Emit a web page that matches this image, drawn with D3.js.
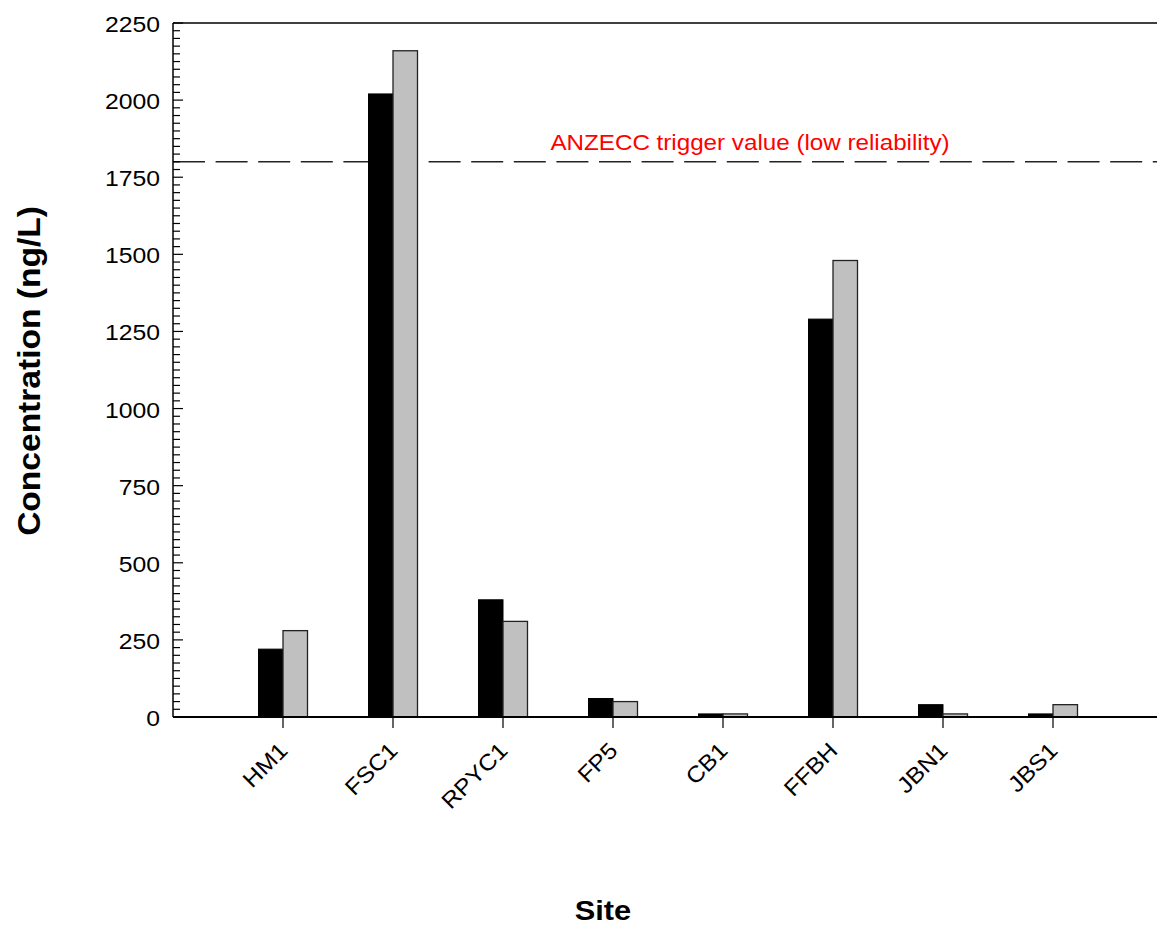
<!DOCTYPE html>
<html><head><meta charset="utf-8">
<script src="https://cdn.jsdelivr.net/npm/d3@7"></script>
<style>body{margin:0;background:#fff}svg{display:block}text{font-family:"Liberation Sans",Arial,sans-serif}</style>
</head><body>
<svg id="c" width="1157" height="926"></svg>
<script>
const sites = ["HM1","FSC1","RPYC1","FP5","CB1","FFBH","JBN1","JBS1"];
const seriesA = [220, 2020, 380, 60, 10, 1290, 40, 10];
const seriesB = [280, 2160, 310, 50, 10, 1480, 10, 40];
const yTicks = [0, 250, 500, 750, 1000, 1250, 1500, 1750, 2000, 2250];
const triggerValue = 1800;
const triggerLabel = "ANZECC trigger value (low reliability)";

(function(){
const svg = d3.select("#c");
const pL = 173, pT = 23, pB = 717, step = 110;
const y = d3.scaleLinear().domain([0, 2250]).range([pB, pT]);
const x = d3.scaleLinear().domain([-1, 9]).range([pL, pL + step * 10]);
const bw = 24.5;
const sx = 1.1;

// trigger line (behind bars)
svg.append("line").attr("x1", pL).attr("x2", 1157)
  .attr("y1", y(triggerValue)).attr("y2", y(triggerValue))
  .attr("stroke", "#222").attr("stroke-width", 1.4).attr("stroke-dasharray", "32,10.6");
svg.append("text").attr("transform", `translate(750,${y(triggerValue) - 12}) scale(${sx},1)`)
  .attr("text-anchor", "middle").attr("fill", "#ff0000").attr("font-size", 22)
  .text(triggerLabel);

const g = svg.append("g");
g.selectAll("rect.a").data(sites).enter().append("rect")
  .attr("x", (d,i) => x(i) - bw).attr("width", bw)
  .attr("y", (d,i) => y(seriesA[i])).attr("height", (d,i) => pB - y(seriesA[i]))
  .attr("fill", "#000").attr("stroke", "#000").attr("stroke-width", 1);
g.selectAll("rect.b").data(sites).enter().append("rect")
  .attr("x", (d,i) => x(i)).attr("width", bw)
  .attr("y", (d,i) => y(seriesB[i])).attr("height", (d,i) => pB - y(seriesB[i]))
  .attr("fill", "#c0c0c0").attr("stroke", "#222").attr("stroke-width", 1.3);

const minor = d3.range(0, 2251, 25);
svg.append("g").selectAll("line").data(minor).enter().append("line")
  .attr("x1", pL).attr("x2", d => yTicks.includes(d) ? pL + 10 : pL + 7)
  .attr("y1", d => y(d)).attr("y2", d => y(d))
  .attr("stroke", "#000").attr("stroke-width", 1.2);
svg.append("line").attr("x1", pL).attr("x2", pL).attr("y1", pT).attr("y2", pB)
  .attr("stroke", "#000").attr("stroke-width", 1.5);
svg.append("g").selectAll("text").data(yTicks).enter().append("text")
  .attr("transform", d => `translate(160,${y(d) + 9}) scale(${sx},1)`)
  .attr("text-anchor", "end").attr("font-size", 22.5).text(d => d);

svg.append("line").attr("x1", pL).attr("x2", 1157).attr("y1", pT).attr("y2", pT)
  .attr("stroke", "#000").attr("stroke-width", 1.5);

svg.append("line").attr("x1", pL).attr("x2", 1157).attr("y1", pB).attr("y2", pB)
  .attr("stroke", "#000").attr("stroke-width", 2);
svg.append("g").selectAll("line").data(sites).enter().append("line")
  .attr("x1", (d,i) => x(i)).attr("x2", (d,i) => x(i))
  .attr("y1", pB).attr("y2", pB + 11)
  .attr("stroke", "#000").attr("stroke-width", 1.2);
svg.append("g").selectAll("text").data(sites).enter().append("text")
  .attr("transform", (d,i) => `translate(${x(i) + 6},${pB + 35}) rotate(-45) scale(${sx},1)`)
  .attr("text-anchor", "end").attr("font-size", 22.5).text(d => d);

svg.append("text").attr("transform", `translate(40,371) rotate(-90) scale(${sx},1)`)
  .attr("text-anchor", "middle").attr("font-size", 30.5).attr("font-weight", "bold")
  .text("Concentration (ng/L)");
svg.append("text").attr("transform", `translate(603,920) scale(${sx},1)`).attr("text-anchor", "middle")
  .attr("font-size", 28).attr("font-weight", "bold").text("Site");
})();
</script>
</body></html>
